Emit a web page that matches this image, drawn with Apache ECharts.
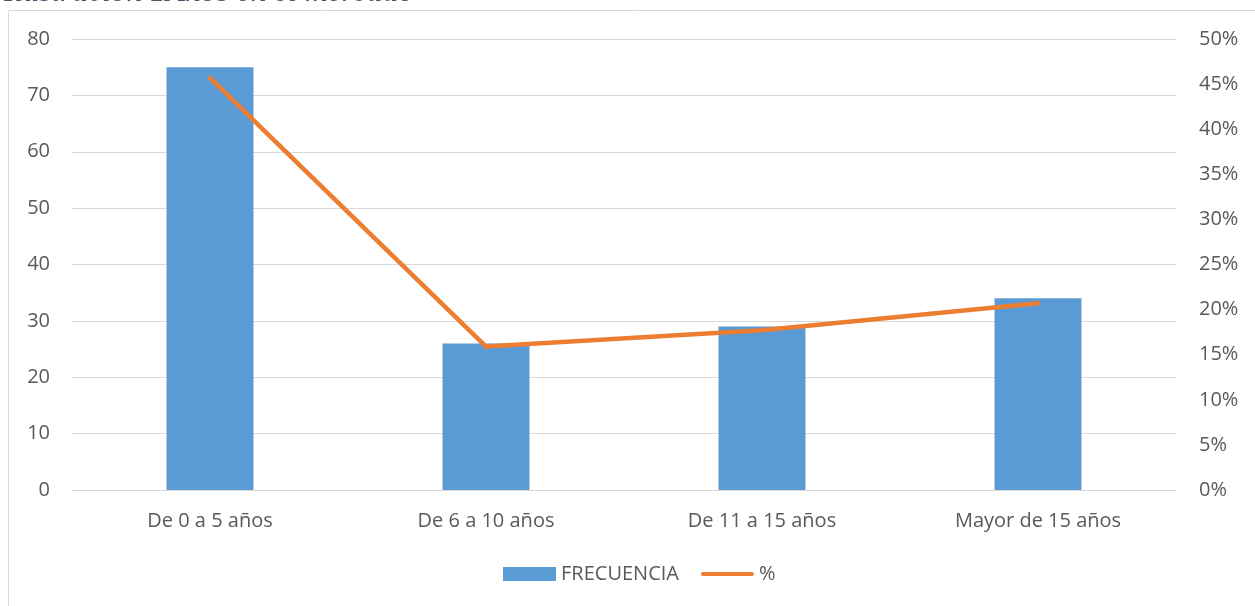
<!DOCTYPE html>
<html><head><meta charset="utf-8">
<script src="https://cdn.jsdelivr.net/npm/echarts@6/dist/echarts.min.js"></script>
<style>html,body{margin:0;padding:0;background:#fff}#c{width:1255px;height:606px}</style>
</head><body><div id="c"></div>
<script>
const categories = ['De 0 a 5 años', 'De 6 a 10 años', 'De 11 a 15 años', 'Mayor de 15 años'];
const frecuencia = [75, 26, 29, 34];
const porcentaje = [0.457, 0.159, 0.177, 0.207];
const leftTicks = {min: 0, max: 80, interval: 10};
const rightTicks = {min: 0, max: 0.5, interval: 0.05};
const titleText = 'Ilustración 1Años en el mercado';

const font = '"Open Sans", "Noto Sans", sans-serif';
const fs = 20;
const chart = echarts.init(document.getElementById('c'), null, {renderer: 'canvas'});
chart.setOption({
  animation: false,
  backgroundColor: '#fff',
  graphic: [
    {type: 'rect', shape: {x: 8.5, y: 10.5, width: 1260, height: 620},
     style: {fill: 'none', stroke: '#D9D9D9', lineWidth: 1}, silent: true, z: 0},
    {type: 'text', x: 4, y: 9,
     style: {text: titleText, fontStyle: 'italic', fontWeight: 'normal', verticalAlign: 'bottom',
       fontFamily: '"Liberation Serif", "DejaVu Serif", serif', fontSize: 31.5, fill: '#44546A'}}
  ],
  grid: {left: 72, right: 79, top: 39, bottom: 116, containLabel: false},
  legend: {
    bottom: 17, left: 498, itemGap: 22, itemWidth: 53, itemHeight: 14,
    textStyle: {fontFamily: font, fontSize: fs, color: '#595959'},
    data: [
      {name: 'FRECUENCIA', icon: 'rect'},
      {name: '%', icon: 'path://M2,0 L54,0 A2,2 0 0 1 54,4 L2,4 A2,2 0 0 1 2,0 Z'}
    ]
  },
  xAxis: {
    type: 'category', data: categories,
    axisLine: {lineStyle: {color: '#D9D9D9', width: 1}},
    axisTick: {show: false},
    axisLabel: {color: '#595959', fontFamily: font, fontSize: fs, margin: 21}
  },
  yAxis: [
    {type: 'value', min: leftTicks.min, max: leftTicks.max, interval: leftTicks.interval,
     axisLine: {show: false}, axisTick: {show: false},
     splitLine: {lineStyle: {color: '#D9D9D9', width: 1}},
     axisLabel: {color: '#595959', fontFamily: font, fontSize: fs, margin: 22}},
    {type: 'value', min: rightTicks.min, max: rightTicks.max, interval: rightTicks.interval,
     position: 'right',
     axisLine: {show: false}, axisTick: {show: false}, splitLine: {show: false},
     axisLabel: {color: '#595959', fontFamily: font, fontSize: fs, margin: 23,
       formatter: v => Math.round(v * 100) + '%'}}
  ],
  series: [
    {name: 'FRECUENCIA', type: 'bar', data: frecuencia, barWidth: '31.5%',
     itemStyle: {color: '#5B9BD5'}},
    {name: '%', type: 'line', yAxisIndex: 1, data: porcentaje, smooth: false,
     symbol: 'none', lineStyle: {color: '#ED7D31', width: 4.5, cap: 'round', join: 'round'},
     itemStyle: {color: '#ED7D31'}}
  ]
});
</script></body></html>
